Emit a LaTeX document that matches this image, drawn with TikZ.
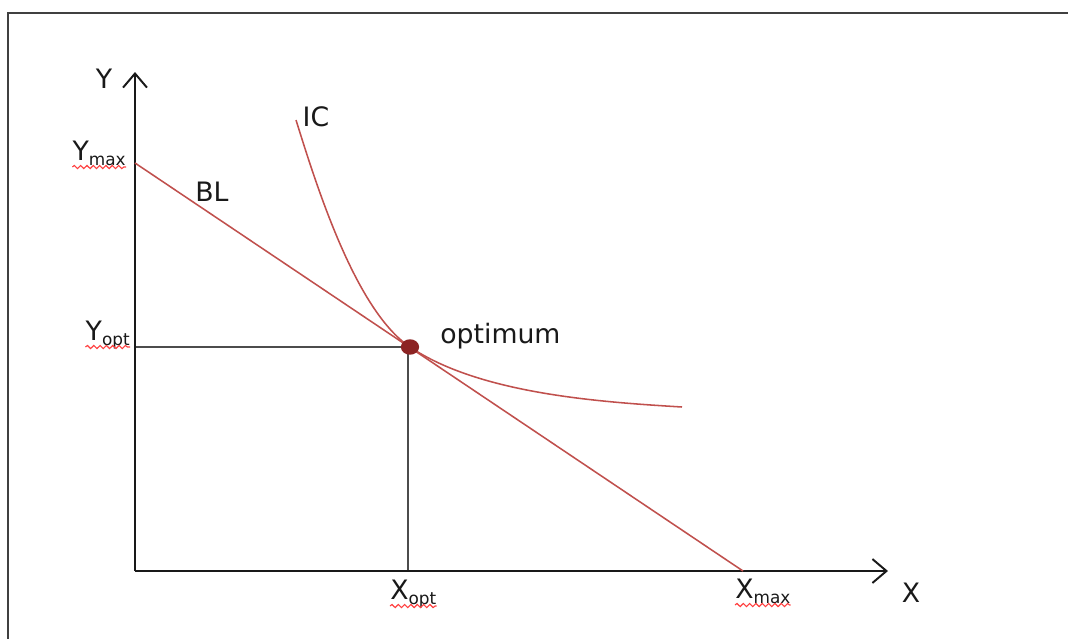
\documentclass[tikz,border=0pt]{standalone}
\usepackage{fontspec}
\setmainfont{DejaVu Sans}
\usepackage{tikz}
\usetikzlibrary{arrows.meta,decorations.pathmorphing,shapes.geometric}
\definecolor{bcred}{RGB}{192,80,77}
\definecolor{optred}{RGB}{140,35,35}
\newcommand{\ccsub}[1]{\raisebox{-0.4ex}{\fontsize{12}{12}\selectfont #1}}
\tikzset{
  cc frame/.style={line width=1.5pt, black!75},
  cc axis/.style={
    line width=1.6pt,
    black!90,
    -{Straight Barb[length=10pt,width=17pt,line width=1.4pt]},
  },
  cc guide/.style={line width=0.8pt, black!70},
  cc curve/.style={line width=1.1pt, bcred},
  cc dot/.style={ellipse, fill=optred, inner sep=0pt, minimum width=13pt, minimum height=11pt},
  cc label/.style={font=\fontsize{19}{21}\selectfont, text=black!90, inner sep=0pt},
  cc squiggle/.style={
    red!75,
    line width=0.8pt,
    decorate,
    decoration={snake, amplitude=1.1pt, segment length=4.5pt},
  },
}

\begin{document}
\begin{tikzpicture}[x=0.025cm, y=-0.025cm]
  \useasboundingbox (0,0) rectangle (1068,639);
  \draw[cc frame] (8,639) -- (8,13) -- (1068,13);

  % axes and points
  \coordinate (origin) at (135,571);
  \coordinate (ytip) at (135,72);
  \coordinate (xtip) at (888,571);
  \coordinate (ymax) at (135,163);
  \coordinate (xmax) at (743,571);
  \coordinate (opt) at (410,347);
  \coordinate (yopt) at (135,347);
  \coordinate (xopt) at (408,571);
  \coordinate (icstart) at (296,120);
  \coordinate (icend) at (682,407);

  \draw[cc guide] (yopt) -- (opt);
  \draw[cc guide] (xopt) -- (xopt |- opt);
  \draw[cc axis] (origin) -- (ytip);
  \draw[cc axis] (origin) -- (xtip);

  % budget line and indifference curve
  \draw[cc curve] (ymax) -- (xmax);
  \draw[cc curve] (icstart) .. controls (316,184) and (355,310) .. (opt)
    .. controls (480,394) and (600,402) .. (icend);
  \node[cc dot] (optdot) at (opt) {};

  % labels
  \node[cc label] (ylab) at (104,79) {Y};
  \node[cc label] (xlab) at (911,593) {X};
  \node[cc label] (bllab) at (212,192) {BL};
  \node[cc label] (iclab) at (316,117) {IC};
  \node[cc label, anchor=base west] (optlab) at (440,343) {optimum};
  \node[cc label, anchor=base east] (ymaxlab) at (126,160) {Y\ccsub{max}};
  \node[cc label, anchor=base east] (yoptlab) at (130,340) {Y\ccsub{opt}};
  \node[cc label, anchor=base west] (xoptlab) at (390,599) {X\ccsub{opt}};
  \node[cc label, anchor=base west] (xmaxlab) at (735,598) {X\ccsub{max}};
  \foreach \lab in {ymaxlab,yoptlab,xoptlab,xmaxlab}
    \draw[cc squiggle] ([yshift=-5pt]\lab.base west) -- ([yshift=-5pt]\lab.base east);
\end{tikzpicture}
\end{document}
